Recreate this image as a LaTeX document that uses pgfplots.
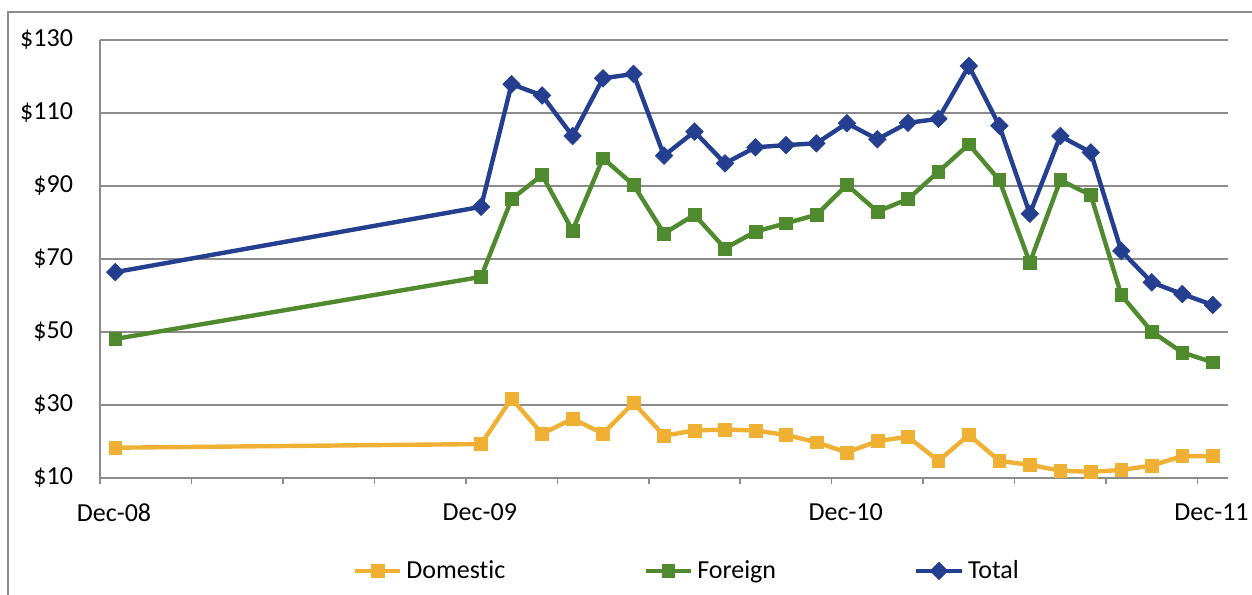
\documentclass[border=0pt]{standalone}
\usepackage{fontspec}
\setmainfont{Carlito}[Ligatures=NoCommon]
\usepackage{pgfplots}
\pgfplotsset{compat=1.18}
\definecolor{dom}{RGB}{240,176,52}
\definecolor{fgn}{RGB}{79,138,46}
\definecolor{tot}{RGB}{36,62,144}
\definecolor{gridc}{RGB}{140,140,140}
\begin{document}
\begin{tikzpicture}[font=\fontsize{13}{15.6}\selectfont]
\begin{axis}[
 at={(0,0)}, anchor=south west,
 scale only axis, width=564pt, height=219pt,
 xmin=0, xmax=37, ymin=10, ymax=130,
 axis x line*=bottom, axis y line*=left,
 axis line style={gridc, line width=0.8pt, -},
 xtick={0,3,...,36},
 xticklabels={Dec-08,,,,Dec-09,,,,Dec-10,,,,Dec-11},
 x tick label style={xshift=7pt, yshift=-6.5pt},
 tick align=outside, major tick length=3pt,
 x tick style={gridc, line width=0.8pt},
 ytick={10,30,...,130},
 yticklabels={\$10,\$30,\$50,\$70,\$90,\$110,\$130},
 y tick style={draw=none},
 y tick label style={xshift=-7pt},
 ymajorgrids, major grid style={gridc, line width=0.8pt},
 legend columns=3,
 legend style={draw=none, fill=none, at={(axis description cs:0.521,-0.212)}, anchor=center,
   /tikz/every even column/.append style={column sep=67pt}},
 legend image code/.code={\draw[mark repeat=2,mark phase=2] plot coordinates {(0cm,0cm)(0.4cm,0cm)(0.8cm,0cm)};},
 every axis plot/.append style={line width=2.2pt},
]
\addplot[color=dom, mark=square*, mark size=3.2pt, mark options={line width=0.3pt}] coordinates {
(0.5,18.3) (12.5,19.3) (13.5,31.8) (14.5,22.1) (15.5,26.2) (16.5,22.2) (17.5,30.6) (18.5,21.6)
(19.5,23.0) (20.5,23.3) (21.5,23.0) (22.5,21.8) (23.5,19.8) (24.5,17.0) (25.5,20.1) (26.5,21.3)
(27.5,14.7) (28.5,21.8) (29.5,14.7) (30.5,13.6) (31.5,12.0) (32.5,11.7) (33.5,12.2) (34.5,13.4)
(35.5,16.0) (36.5,16.0)};
\addlegendentry{Domestic}
\addplot[color=fgn, mark=square*, mark size=3.2pt, mark options={line width=0.3pt}] coordinates {
(0.5,48.1) (12.5,65.1) (13.5,86.4) (14.5,93.0) (15.5,77.8) (16.5,97.6) (17.5,90.3) (18.5,77.0)
(19.5,82.1) (20.5,72.9) (21.5,77.5) (22.5,79.8) (23.5,82.1) (24.5,90.3) (25.5,83.0) (26.5,86.4)
(27.5,93.9) (28.5,101.4) (29.5,91.6) (30.5,69.0) (31.5,91.6) (32.5,87.5) (33.5,60.1) (34.5,50.1)
(35.5,44.4) (36.5,41.7)};
\addlegendentry{Foreign}
\addplot[color=tot, mark=diamond*, mark size=4.4pt, mark options={line width=0.3pt, xscale=1.33}] coordinates {
(0.5,66.4) (12.5,84.3) (13.5,117.9) (14.5,114.8) (15.5,103.7) (16.5,119.5) (17.5,120.7) (18.5,98.3)
(19.5,104.9) (20.5,96.2) (21.5,100.6) (22.5,101.2) (23.5,101.7) (24.5,107.2) (25.5,102.8) (26.5,107.3)
(27.5,108.4) (28.5,122.9) (29.5,106.5) (30.5,82.4) (31.5,103.7) (32.5,99.2) (33.5,72.2) (34.5,63.6)
(35.5,60.4) (36.5,57.4)};
\addlegendentry{Total}
\end{axis}
\draw[gridc, line width=1pt] (-46pt,-70pt) -- (-46pt,233pt) -- (600pt,233pt);
\pgfresetboundingbox
\useasboundingbox (-50pt,-58pt) rectangle (576pt,239pt);
\end{tikzpicture}
\end{document}
